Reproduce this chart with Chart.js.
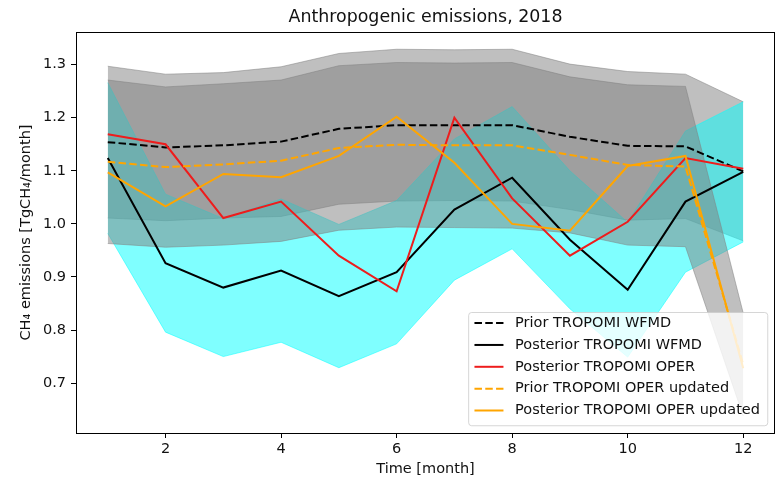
<!DOCTYPE html>
<html>
<head>
<meta charset="utf-8">
<script src="https://cdn.jsdelivr.net/npm/chart.js@4.4.0/dist/chart.umd.min.js"></script>
<style>
  body { margin: 0; background: #fff; }
  #wrap { width: 780px; height: 478px; }
</style>
</head>
<body>
<div id="wrap"><canvas id="emis" width="780" height="478"></canvas></div>
<script>
const months = [1, 2, 3, 4, 5, 6, 7, 8, 9, 10, 11, 12];
const xTicks = [2, 4, 6, 8, 10, 12];
const yTicks = [0.7, 0.8, 0.9, 1.0, 1.1, 1.2, 1.3];

const priorWfmd    = [1.154, 1.144, 1.148, 1.155, 1.179, 1.186, 1.186, 1.186, 1.164, 1.147, 1.146, 1.099];
const postWfmd     = [1.124, 0.926, 0.880, 0.912, 0.864, 0.909, 1.027, 1.087, 0.970, 0.876, 1.042, 1.098];
const postOper     = [1.169, 1.150, 1.011, 1.042, 0.940, 0.873, 1.200, 1.048, 0.940, 1.004, 1.124, 1.104];
const priorOperUpd = [1.117, 1.107, 1.112, 1.119, 1.143, 1.149, 1.148, 1.148, 1.130, 1.111, 1.108, 0.735];
const postOperUpd  = [1.097, 1.033, 1.094, 1.088, 1.128, 1.202, 1.115, 1.000, 0.987, 1.109, 1.128, 0.728];

// uncertainty half widths
const errPriorWfmd    = [0.143, 0.138, 0.137, 0.141, 0.142, 0.143, 0.142, 0.143, 0.137, 0.140, 0.136, 0.131];
const errPostWfmd     = [0.142, 0.130, 0.130, 0.135, 0.135, 0.135, 0.133, 0.134, 0.130, 0.127, 0.133, 0.132];
const errPriorOperUpd = [0.154, 0.151, 0.152, 0.152, 0.155, 0.155, 0.155, 0.156, 0.147, 0.151, 0.151, 0.097];

const titleText = 'Anthropogenic emissions, 2018';

const FONT = 'DejaVu Sans';
const GRAY = 'rgba(128,128,128,0.5)';
const CYAN = 'rgba(0,255,255,0.5)';

const pts = (vals) => months.map((m, i) => ({ x: m, y: vals[i] }));
const shift = (c, e, s) => c.map((v, i) => v + s * e[i]);

const line = (label, vals, color, dash, order) => ({
  label, data: pts(vals), borderColor: color, borderWidth: 2,
  borderDash: dash, pointRadius: 0, tension: 0, fill: false, order, inLegend: true
});

const band = (center, err, color, order) => ([
  { data: pts(shift(center, err, -1)), borderColor: color, borderWidth: 1, pointRadius: 0, fill: false, order },
  { data: pts(shift(center, err, 1)), borderColor: color, borderWidth: 1, pointRadius: 0, fill: '-1', backgroundColor: color, order }
]);

// spines on all four sides + title centred over the axes
const frame = {
  id: 'frame',
  afterDatasetsDraw(chart) {
    const { ctx, chartArea: a } = chart;
    ctx.save();
    ctx.strokeStyle = '#000';
    ctx.lineWidth = 1;
    ctx.strokeRect(a.left + 0.5, a.top + 0.5, a.right - a.left - 1, a.bottom - a.top);
    ctx.font = '17.4px "' + FONT + '"';
    ctx.fillStyle = '#111';
    ctx.textAlign = 'center';
    ctx.textBaseline = 'alphabetic';
    ctx.fillText(titleText, (a.left + a.right) / 2, a.top - 10.5);
    ctx.restore();
  }
};

// legend drawn inside the axes, lower right
const boxLegend = {
  id: 'boxLegend',
  afterDraw(chart) {
    const { ctx, chartArea: a } = chart;
    const fs = 14.5;
    const items = chart.data.datasets.filter(d => d.inLegend);
    ctx.save();
    ctx.font = fs + 'px "' + FONT + '"';
    const tw = Math.max(...items.map(d => ctx.measureText(d.label).width));
    const pad = 0.4 * fs, gap = 0.5 * fs, hl = 2 * fs, hp = 0.8 * fs, row = 21.85;
    const w = pad * 2 + hl + hp + tw + 2;
    const h = row * items.length + 4;
    const x0 = a.right - gap - w, y0 = a.bottom - gap - h;
    ctx.beginPath();
    ctx.roundRect(x0, y0, w, h, 3);
    ctx.fillStyle = 'rgba(255,255,255,0.8)';
    ctx.fill();
    ctx.strokeStyle = 'rgba(204,204,204,0.8)';
    ctx.lineWidth = 1;
    ctx.stroke();
    items.forEach((d, i) => {
      const y = y0 + 10.6 + i * row;
      ctx.beginPath();
      ctx.setLineDash(d.borderDash || []);
      ctx.strokeStyle = d.borderColor;
      ctx.lineWidth = 2;
      ctx.moveTo(x0 + pad, y);
      ctx.lineTo(x0 + pad + hl, y);
      ctx.stroke();
      ctx.setLineDash([]);
      ctx.fillStyle = '#111';
      ctx.textBaseline = 'middle';
      ctx.fillText(d.label, x0 + pad + hl + hp, y);
    });
    ctx.restore();
  }
};

const dash = [7.5, 3.3];
const datasets = [
  line('Prior TROPOMI WFMD', priorWfmd, '#000000', dash, 5),
  line('Posterior TROPOMI WFMD', postWfmd, '#000000', [], 4),
  line('Posterior TROPOMI OPER', postOper, '#ee1c1c', [], 3),
  line('Prior TROPOMI OPER updated', priorOperUpd, '#ffa500', dash, 2),
  line('Posterior TROPOMI OPER updated', postOperUpd, '#ffa500', [], 1),
  ...band(priorOperUpd, errPriorOperUpd, GRAY, 10),
  ...band(postWfmd, errPostWfmd, CYAN, 20),
  ...band(priorWfmd, errPriorWfmd, GRAY, 30)
];

const tickFont = { family: FONT, size: 14.5 };

new Chart(document.getElementById('emis'), {
  type: 'line',
  data: { datasets },
  options: {
    responsive: false,
    animation: false,
    layout: { padding: { left: 0, right: 5, top: 32, bottom: 0 } },
    plugins: {
      legend: { display: false },
      tooltip: { enabled: false },
      filler: { propagate: false },
      title: { display: false }
    },
    scales: {
      x: {
        type: 'linear', min: 0.45, max: 12.55,
        afterBuildTicks: s => { s.ticks = xTicks.map(v => ({ value: v })); },
        afterFit: s => { s.height = 45; },
        ticks: { color: '#111', font: tickFont, padding: 3, maxRotation: 0, callback: v => String(v) },
        grid: { drawOnChartArea: false, drawTicks: true, tickLength: 5, tickColor: '#000' },
        border: { display: false },
        title: { display: true, text: 'Time [month]', color: '#111', font: tickFont, padding: { top: 0, bottom: 0 } }
      },
      y: {
        type: 'linear', min: 0.606, max: 1.3615,
        afterBuildTicks: s => { s.ticks = yTicks.map(v => ({ value: v })); },
        afterFit: s => { s.width = 76; },
        ticks: { color: '#111', font: tickFont, padding: 5, callback: v => v.toFixed(1) },
        grid: { drawOnChartArea: false, drawTicks: true, tickLength: 5, tickColor: '#000' },
        border: { display: false },
        title: { display: true, text: 'CH₄ emissions [TgCH₄/month]', color: '#111', font: tickFont, padding: { top: 18, bottom: 0 } }
      }
    }
  },
  plugins: [frame, boxLegend]
});
</script>
</body>
</html>
